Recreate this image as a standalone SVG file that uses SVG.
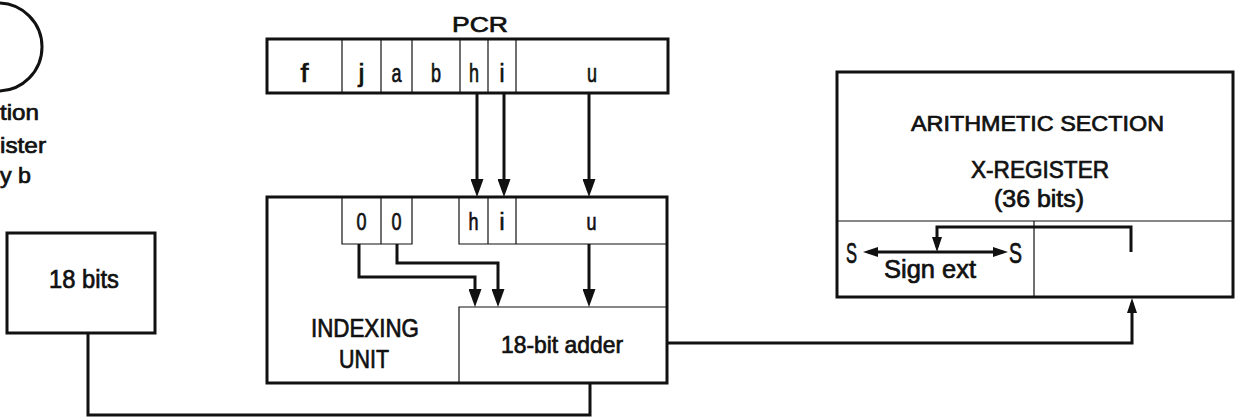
<svg xmlns="http://www.w3.org/2000/svg" width="1241" height="420" viewBox="0 0 1241 420">
<style>
.thick{fill:none;stroke:#111;stroke-width:3}
.thin{fill:none;stroke:#111;stroke-width:1.2}
.wire{fill:none;stroke:#111;stroke-width:3}
text{font-family:"Liberation Sans Narrow","Liberation Sans",Arial,sans-serif;fill:#111;stroke:#111;stroke-width:0.7}
</style>
<defs>
<marker id="ah" markerUnits="userSpaceOnUse" viewBox="0 0 18 13" refX="12" refY="6.5" markerWidth="18" markerHeight="13" orient="auto"><path d="M0,0 L18,6.5 L0,13 z" fill="#111"/></marker>
<marker id="ahs" markerUnits="userSpaceOnUse" viewBox="0 0 15 10" refX="10" refY="5" markerWidth="15" markerHeight="10" orient="auto-start-reverse"><path d="M0,0 L15,5 L0,10 z" fill="#111"/></marker>
</defs>
<rect width="1241" height="420" fill="#fff"/>

<g id="index-register-circle">
<circle cx="-2" cy="47" r="44" class="thick"/>
<text x="0" y="120" font-size="22" textLength="39" lengthAdjust="spacingAndGlyphs">tion</text>
<text x="0" y="153" font-size="22" textLength="46" lengthAdjust="spacingAndGlyphs">ister</text>
<text x="0" y="183" font-size="22" textLength="31" lengthAdjust="spacingAndGlyphs">y b</text>
</g>

<g id="bits18">
<rect x="7" y="233" width="148" height="100" class="thick"/>
<text x="49" y="288" font-size="25" textLength="70" lengthAdjust="spacingAndGlyphs">18 bits</text>
</g>

<g id="pcr">
<text x="452" y="32" font-size="22" textLength="56" lengthAdjust="spacingAndGlyphs">PCR</text>
<rect x="267" y="39" width="401" height="54" class="thick"/>
<path d="M342,39V93M381,39V93M412,39V93M460,39V93M488,39V93M516,39V93" class="thin"/>
<g font-size="26">
<text x="300.5" y="82" textLength="8" lengthAdjust="spacingAndGlyphs">f</text>
<text x="358.5" y="82" textLength="6" lengthAdjust="spacingAndGlyphs">j</text>
<text x="391.5" y="82" textLength="10" lengthAdjust="spacingAndGlyphs">a</text>
<text x="431" y="82" textLength="10" lengthAdjust="spacingAndGlyphs">b</text>
<text x="469" y="82" textLength="10" lengthAdjust="spacingAndGlyphs">h</text>
<text x="499.5" y="82" textLength="5" lengthAdjust="spacingAndGlyphs">i</text>
<text x="587" y="82" textLength="10" lengthAdjust="spacingAndGlyphs">u</text>
</g>
</g>

<g id="indexing-unit">
<rect x="267" y="197" width="400" height="186" class="thick"/>
<path d="M342,197V244H412V197M381,197V244" class="thin"/>
<path d="M459,197V244H667M488,197V244M516,197V244" class="thin"/>
<g font-size="23">
<text x="356.5" y="230" textLength="10" lengthAdjust="spacingAndGlyphs">0</text>
<text x="391.5" y="230" textLength="10" lengthAdjust="spacingAndGlyphs">0</text>
<text x="468.5" y="230" textLength="10" lengthAdjust="spacingAndGlyphs">h</text>
<text x="499.5" y="230" textLength="5" lengthAdjust="spacingAndGlyphs">i</text>
<text x="586.5" y="230" textLength="10" lengthAdjust="spacingAndGlyphs">u</text>
</g>
<text x="311" y="337" font-size="25" textLength="108" lengthAdjust="spacingAndGlyphs">INDEXING</text>
<text x="339" y="368" font-size="25" textLength="50" lengthAdjust="spacingAndGlyphs">UNIT</text>
</g>

<g id="adder">
<path d="M459,383V307H667" class="thin"/>
<text x="501" y="353" font-size="24" textLength="122" lengthAdjust="spacingAndGlyphs">18-bit adder</text>
</g>

<g id="arithmetic-section">
<rect x="837" y="72" width="396" height="225" class="thick"/>
<path d="M837,221H1233M1034,221V297" class="thin"/>
<text x="911" y="131" font-size="22" textLength="253" lengthAdjust="spacingAndGlyphs">ARITHMETIC SECTION</text>
<text x="971" y="178" font-size="23" textLength="138" lengthAdjust="spacingAndGlyphs">X-REGISTER</text>
<text x="994" y="207" font-size="23" textLength="90" lengthAdjust="spacingAndGlyphs">(36 bits)</text>
<text x="846" y="263" font-size="30" textLength="11" lengthAdjust="spacingAndGlyphs">S</text>
<text x="1009" y="263" font-size="30" textLength="13" lengthAdjust="spacingAndGlyphs">S</text>
<text x="884" y="278" font-size="25" textLength="92" lengthAdjust="spacingAndGlyphs">Sign ext</text>
</g>

<g id="connectors">
<path d="M477,93V191" class="wire" marker-end="url(#ah)"/>
<path d="M504,93V191" class="wire" marker-end="url(#ah)"/>
<path d="M589,93V191" class="wire" marker-end="url(#ah)"/>
<path d="M589,244V301" class="wire" marker-end="url(#ah)"/>
<path d="M359,244V277H475V301" class="wire" marker-end="url(#ah)"/>
<path d="M397,244V263H498V301" class="wire" marker-end="url(#ah)"/>
<path d="M88,333V415H590V383" class="wire"/>
<path d="M667,343H1132V303" class="wire" marker-end="url(#ahs)"/>
<path d="M1131,252V227H937V247" class="wire" marker-end="url(#ahs)"/>
<path d="M868,252H1003" class="wire" marker-start="url(#ahs)" marker-end="url(#ahs)"/>
</g>
</svg>
